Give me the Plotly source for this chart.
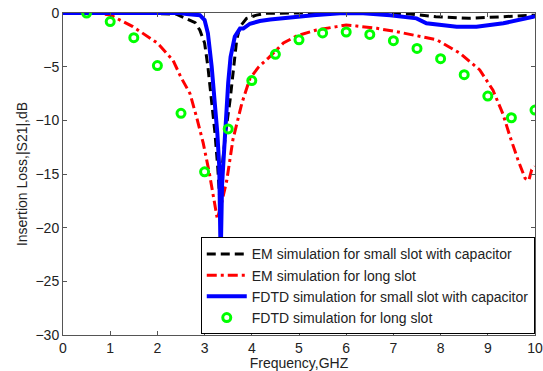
import plotly.graph_objects as go

# --- data ---
black_f = [0, 1, 2, 2.4, 2.6, 2.8, 2.9, 3.0, 3.07, 3.15, 3.22, 3.28, 3.33, 3.38, 3.45, 3.54, 3.61, 3.68, 3.75, 3.89, 4.1, 4.3, 5, 6, 7, 7.35, 7.9, 8.6, 9.3, 10]
black_v = [0, 0, -0.05, -0.1, -0.5, -0.9, -1.6, -2.8, -5.0, -8.1, -11.2, -14.5, -18, -14, -11, -8.1, -5.0, -2.5, -1.27, -0.5, -0.2, -0.03, 0, 0, -0.05, -0.1, -0.35, -0.5, -0.35, -0.2]

red_f = [0, 0.8, 1.0, 1.48, 2.0, 2.33, 2.5, 2.69, 2.83, 2.97, 3.1, 3.18, 3.27, 3.37, 3.47, 3.6, 3.79, 3.96, 4.15, 4.35, 4.67, 4.95, 5.37, 5.8, 6.0, 6.22, 6.65, 7.07, 7.49, 7.92, 8.41, 8.83, 9.11, 9.32, 9.47, 9.64, 9.79, 9.87, 9.93, 10]
red_v = [0, -0.05, -0.19, -1.27, -2.8, -4.4, -6.0, -7.5, -9.7, -12.1, -14.9, -16.8, -19.2, -17.5, -15.6, -11.8, -8.4, -6.1, -5.0, -4.2, -2.8, -2.14, -1.58, -1.27, -1.12, -1.21, -1.43, -1.74, -2.14, -2.5, -3.75, -5.3, -7.2, -9.4, -11.5, -13.7, -15.4, -15.6, -14.6, -14.3]

blue_f = [0, 1, 2, 2.48, 2.62, 2.9, 3.0, 3.07, 3.15, 3.22, 3.27, 3.31, 3.34, 3.37, 3.43, 3.5, 3.55, 3.64, 3.75, 3.82, 3.96, 4.17, 4.39, 4.6, 4.95, 5.3, 5.94, 6.36, 6.93, 7.49, 7.7, 8.34, 8.76, 9.33, 9.96, 10]
blue_v = [0, 0, 0, 0, -0.1, -0.2, -0.65, -1.9, -5, -8.1, -11.2, -14.3, -23, -16, -11.2, -6.5, -4.1, -2.2, -1.45, -1.45, -1.0, -0.75, -0.6, -0.5, -0.35, -0.2, 0, -0.03, -0.2, -0.5, -0.96, -1.27, -1.27, -0.96, -0.35, -0.3]

green_f = [0.5, 1, 1.5, 2, 2.5, 3, 3.5, 4, 4.5, 5, 5.5, 6, 6.5, 7, 7.5, 8, 8.5, 9, 9.5, 10]
green_v = [0, -0.8, -2.3, -4.9, -9.35, -14.8, -10.8, -6.3, -3.85, -2.5, -1.86, -1.77, -2.0, -2.58, -3.3, -4.26, -5.75, -7.74, -9.76, -9.04]

x_ticks = [0, 1, 2, 3, 4, 5, 6, 7, 8, 9, 10]
y_ticks = [-30, -25, -20, -15, -10, -5, 0]

names = [
    "EM simulation for small slot with capacitor",
    "EM simulation for long slot",
    "FDTD simulation for small slot with capacitor",
    "FDTD simulation for long slot",
]

fig = go.Figure()
fig.add_trace(go.Scatter(x=black_f, y=black_v, mode="lines", name=names[0],
                         line=dict(color="black", width=3, dash="9px,5px")))
fig.add_trace(go.Scatter(x=red_f, y=red_v, mode="lines", name=names[1],
                         line=dict(color="red", width=3, dash="10px,4px,3px,4px")))
fig.add_trace(go.Scatter(x=blue_f, y=blue_v, mode="lines", name=names[2],
                         line=dict(color="#0000ff", width=4)))
fig.add_trace(go.Scatter(x=green_f, y=green_v, mode="markers", name=names[3],
                         marker=dict(symbol="circle-open", size=8, color="#00ff00",
                                     line=dict(width=3, color="#00ff00"))))

font = dict(family="Liberation Sans, Arial, sans-serif", size=14, color="#222")
axis_common = dict(showgrid=False, zeroline=False, showline=True, linecolor="#555",
                   linewidth=1, mirror="ticks", ticks="inside", ticklen=4,
                   tickcolor="#555", tickfont=font, automargin=False,
                   ticklabeloverflow="allow")
fig.update_layout(
    width=543, height=371,
    margin=dict(l=63, r=8, t=13, b=36, autoexpand=False),
    paper_bgcolor="white", plot_bgcolor="white",
    font=font,
    showlegend=True,
    legend=dict(x=0.9995, y=0.002, xanchor="right", yanchor="bottom",
                bgcolor="white", bordercolor="black", borderwidth=1,
                font=dict(family="Liberation Sans, Arial, sans-serif", size=14, color="#222"),
                tracegroupgap=0, itemwidth=40),
    xaxis=dict(range=[0, 10], tickvals=x_ticks,
               title=dict(text="Frequency,GHZ", font=font, standoff=0), **axis_common),
    yaxis=dict(range=[-30, 0], tickvals=y_ticks,
               title=dict(text="Insertion Loss,|S21|,dB", font=font, standoff=4), **axis_common),
)
# remove the default 8px body margin so the figure fills the window exactly
fig.write_html("out.html",
               config={"displayModeBar": False},
               post_script="document.body.style.margin='0px';document.body.style.overflow='hidden';")
